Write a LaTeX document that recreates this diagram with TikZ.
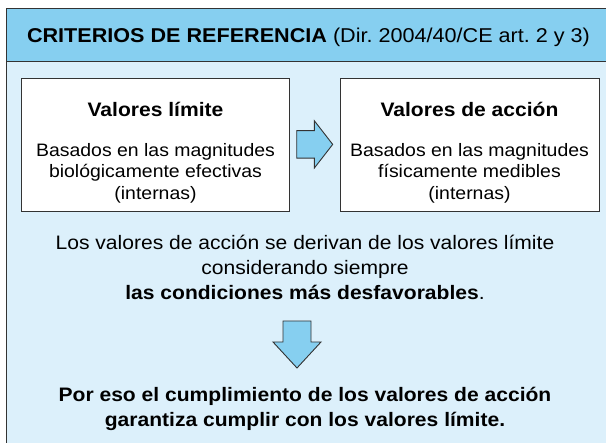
\documentclass[tikz,border=0pt]{standalone}
\usepackage{fontspec}
\setmainfont{Liberation Sans}[FakeStretch=1.08]
\frenchspacing
\usetikzlibrary{positioning}
\definecolor{headblue}{RGB}{134,207,240}
\definecolor{paleblue}{RGB}{220,240,251}
\newcommand{\critlines}[4]{%
  \begin{tabular}{@{}c@{}}
    {\fontsize{19.5}{22}\bfseries #1}\\[18.5pt]
    #2\\ #3\\ #4
  \end{tabular}%
}
\newcommand{\threelines}[3]{%
  \begin{tabular}{@{}c@{}}
    #1\\ #2\\ #3
  \end{tabular}%
}
\newcommand{\twolines}[2]{%
  \begin{tabular}{@{}c@{}}
    #1\\ #2
  \end{tabular}%
}

\begin{document}
\begin{tikzpicture}[
    x=1pt, y=-1pt,
    every node/.style={inner sep=0pt},
    frame/.style={draw=black!80, line width=0.9pt},
    critbox/.style={frame, fill=white},
    blockarrow/.style={frame, fill=headblue, line join=miter},
    boxfont/.style={font=\fontsize{18}{21.5}\selectfont},
    mainfont/.style={font=\fontsize{19.5}{25}\selectfont}
  ]
  \useasboundingbox (0,0) rectangle (606,443);
  \clip (0,0) rectangle (606,443);
  % frame and heading
  \draw[frame, fill=paleblue] (6,8) rectangle (625,460);
  \draw[frame, fill=headblue] (6,8) rectangle (625,61);
  \node[anchor=base] (titulo) at (308.5,42.5)
    {\fontsize{20}{24}\selectfont\textbf{CRITERIOS DE REFERENCIA} (Dir. 2004/40/CE art. 2 y 3)};
  % the two kinds of values
  \node[critbox, minimum width=268, minimum height=133] (limite) at (155.5,144.5) {};
  \node[critbox, minimum width=259, minimum height=133] (accion) at (469.5,144.5) {};
  \node[boxfont, anchor=north] (limtxt) at ([yshift=-23.5pt]limite.north)
    {\critlines{Valores límite}{Basados en las magnitudes}{biológicamente efectivas}{(internas)}};
  \node[boxfont, anchor=north] (acctxt) at ([yshift=-23.5pt]accion.north)
    {\critlines{Valores de acción}{Basados en las magnitudes}{físicamente medibles}{(internas)}};
  \draw[blockarrow] (296.7,130.7) -- (314.3,130.7) -- (314.3,120.7) -- (332.7,144.4)
    -- (314.3,168.1) -- (314.3,158.1) -- (296.7,158.1) -- cycle;
  % explanation
  \node[mainfont, anchor=north] (deriva) at (305,231.5)
    {\threelines{Los valores de acción se derivan de los valores límite}{considerando siempre}{\textbf{las condiciones más desfavorables}.}};
  \draw[blockarrow] (283,321) -- (311,321) -- (311,342) -- (321,342) -- (297,368)
    -- (273,342) -- (283,342) -- cycle;
  \node[mainfont, anchor=north] (conclusion) at (305,384.2)
    {\bfseries\twolines{Por eso el cumplimiento de los valores de acción}{garantiza cumplir con los valores límite.}};
\end{tikzpicture}
\end{document}
